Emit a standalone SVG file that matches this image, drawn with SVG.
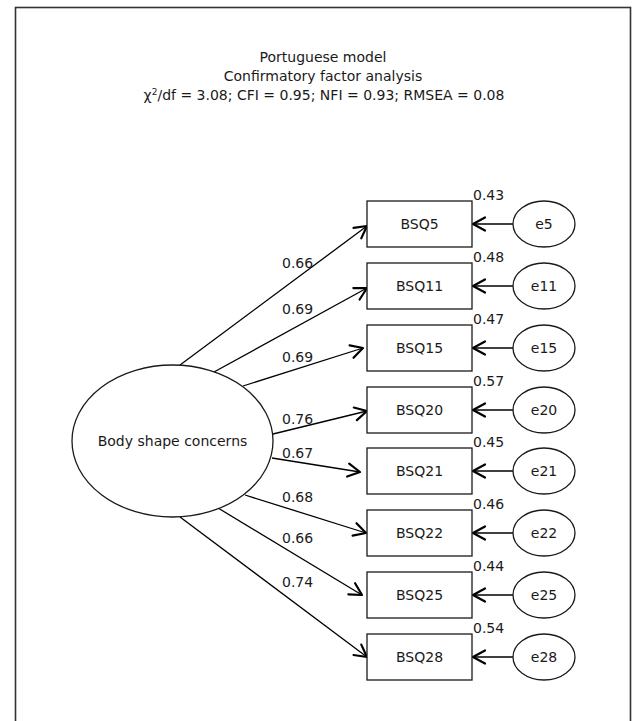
<svg xmlns="http://www.w3.org/2000/svg" width="632" height="721" viewBox="0 0 632 721">
<defs>
<style>
text{font-family:"DejaVu Sans","Liberation Sans",sans-serif;font-size:14px;fill:#1a1a1a}
.mid{text-anchor:middle}
.box{fill:#fff;stroke:#1a1a1a;stroke-width:1.3}
.ell{fill:#fff;stroke:#1a1a1a;stroke-width:1.3}
.ln{fill:none;stroke:#000;stroke-width:1.3;marker-end:url(#arr)}
</style>
<marker id="arr" markerUnits="userSpaceOnUse" viewBox="-14 -8 16 16" markerWidth="16" markerHeight="16" refX="0" refY="0" orient="auto">
<path d="M-12,-6.5 L0,0 L-12,6.5" fill="none" stroke="#000" stroke-width="2.2" stroke-linejoin="round" stroke-linecap="round"/>
</marker>
</defs>
<rect x="15.5" y="7.5" width="615" height="730" fill="#fff" stroke="#333" stroke-width="1.6"/>
<g id="title">
<text class="mid" x="323" y="62">Portuguese model</text>
<text class="mid" x="323" y="81">Confirmatory factor analysis</text>
<text class="mid" x="324" y="100">χ<tspan font-size="9" dy="-5">2</tspan><tspan dy="5">/df = 3.08; CFI = 0.95; NFI = 0.93; RMSEA = 0.08</tspan></text>
</g>
<g id="connectors">
<line class="ln" x1="180" y1="365" x2="367" y2="226"/>
<line class="ln" x1="214" y1="372" x2="367" y2="288"/>
<line class="ln" x1="243" y1="386" x2="363" y2="348"/>
<line class="ln" x1="273" y1="434" x2="367" y2="411"/>
<line class="ln" x1="272" y1="458" x2="360" y2="472"/>
<line class="ln" x1="245" y1="495" x2="366" y2="533"/>
<line class="ln" x1="218" y1="508" x2="362" y2="595"/>
<line class="ln" x1="180" y1="517" x2="367" y2="657"/>
<line class="ln" x1="513" y1="224" x2="473" y2="224"/>
<line class="ln" x1="513" y1="286" x2="473" y2="286"/>
<line class="ln" x1="513" y1="348" x2="473" y2="348"/>
<line class="ln" x1="513" y1="410" x2="473" y2="410"/>
<line class="ln" x1="513" y1="471" x2="473" y2="471"/>
<line class="ln" x1="513" y1="533" x2="473" y2="533"/>
<line class="ln" x1="513" y1="595" x2="473" y2="595"/>
<line class="ln" x1="513" y1="657" x2="473" y2="657"/>
</g>
<g id="path-labels">
<text x="282" y="268">0.66</text>
<text x="282" y="314">0.69</text>
<text x="282" y="362">0.69</text>
<text x="282" y="424">0.76</text>
<text x="282" y="458">0.67</text>
<text x="282" y="502">0.68</text>
<text x="282" y="543">0.66</text>
<text x="282" y="587">0.74</text>
</g>
<g id="factor">
<ellipse class="ell" cx="172.5" cy="441" rx="100.5" ry="76"/>
<text class="mid" x="172.5" y="446">Body shape concerns</text>
</g>
<g id="BSQ5"><rect class="box" x="367" y="201" width="105" height="46"/><text class="mid" x="419.5" y="229">BSQ5</text><text x="473" y="200">0.43</text></g>
<g id="BSQ11"><rect class="box" x="367" y="263" width="105" height="46"/><text class="mid" x="419.5" y="291">BSQ11</text><text x="473" y="262">0.48</text></g>
<g id="BSQ15"><rect class="box" x="367" y="325" width="105" height="46"/><text class="mid" x="419.5" y="353">BSQ15</text><text x="473" y="324">0.47</text></g>
<g id="BSQ20"><rect class="box" x="367" y="387" width="105" height="46"/><text class="mid" x="419.5" y="415">BSQ20</text><text x="473" y="386">0.57</text></g>
<g id="BSQ21"><rect class="box" x="367" y="448" width="105" height="46"/><text class="mid" x="419.5" y="476">BSQ21</text><text x="473" y="447">0.45</text></g>
<g id="BSQ22"><rect class="box" x="367" y="510" width="105" height="46"/><text class="mid" x="419.5" y="538">BSQ22</text><text x="473" y="509">0.46</text></g>
<g id="BSQ25"><rect class="box" x="367" y="572" width="105" height="46"/><text class="mid" x="419.5" y="600">BSQ25</text><text x="473" y="571">0.44</text></g>
<g id="BSQ28"><rect class="box" x="367" y="634" width="105" height="46"/><text class="mid" x="419.5" y="662">BSQ28</text><text x="473" y="633">0.54</text></g>
<g id="e5"><ellipse class="ell" cx="544" cy="224" rx="31" ry="23"/><text class="mid" x="544" y="229">e5</text></g>
<g id="e11"><ellipse class="ell" cx="544" cy="286" rx="31" ry="23"/><text class="mid" x="544" y="291">e11</text></g>
<g id="e15"><ellipse class="ell" cx="544" cy="348" rx="31" ry="23"/><text class="mid" x="544" y="353">e15</text></g>
<g id="e20"><ellipse class="ell" cx="544" cy="410" rx="31" ry="23"/><text class="mid" x="544" y="415">e20</text></g>
<g id="e21"><ellipse class="ell" cx="544" cy="471" rx="31" ry="23"/><text class="mid" x="544" y="476">e21</text></g>
<g id="e22"><ellipse class="ell" cx="544" cy="533" rx="31" ry="23"/><text class="mid" x="544" y="538">e22</text></g>
<g id="e25"><ellipse class="ell" cx="544" cy="595" rx="31" ry="23"/><text class="mid" x="544" y="600">e25</text></g>
<g id="e28"><ellipse class="ell" cx="544" cy="657" rx="31" ry="23"/><text class="mid" x="544" y="662">e28</text></g>
</svg>
